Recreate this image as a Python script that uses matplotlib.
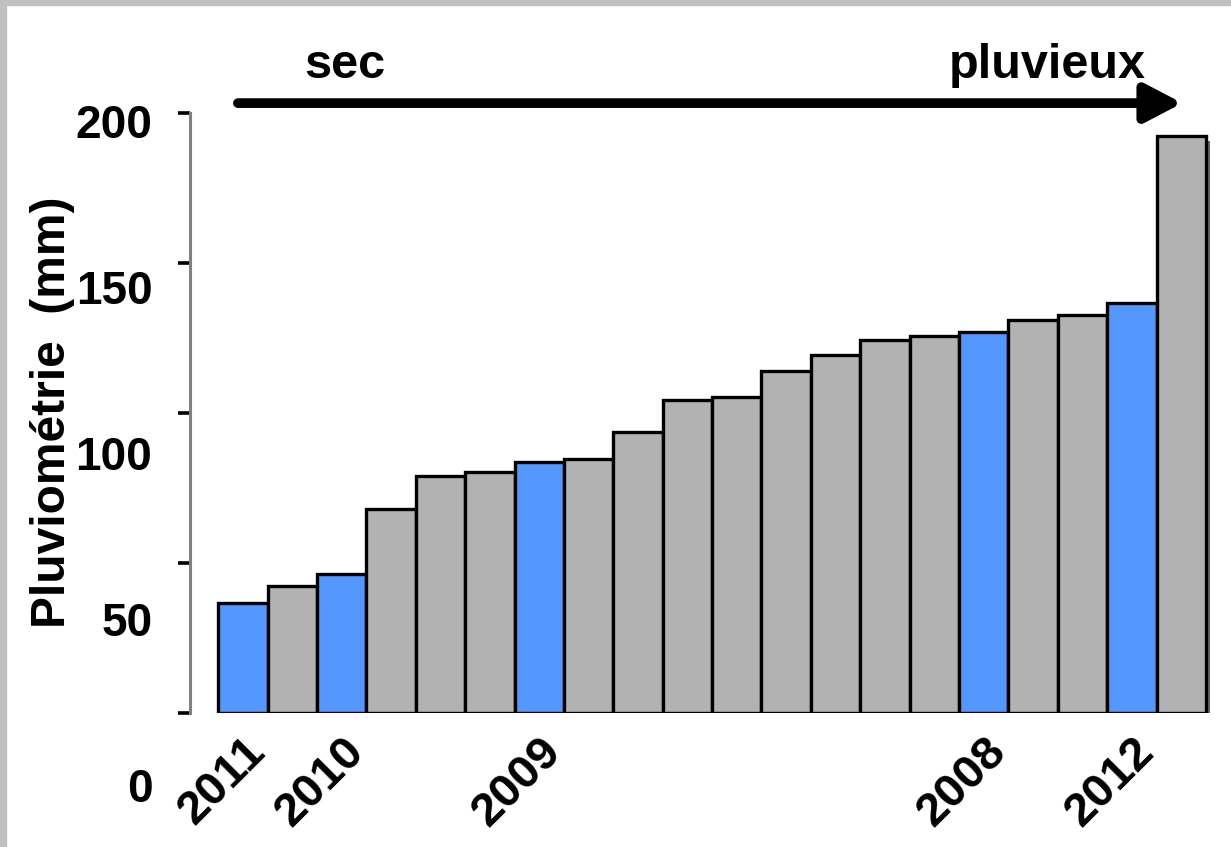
import matplotlib
matplotlib.use('Agg')
import matplotlib.pyplot as plt
import matplotlib.patheffects as pe
from matplotlib.transforms import ScaledTranslation, blended_transform_factory
from matplotlib.patches import Rectangle

plt.rcParams['font.family'] = ['Liberation Sans', 'DejaVu Sans']
plt.rcParams['font.weight'] = 'bold'

# Pluviométrie par année, triée du plus sec au plus pluvieux
valeurs = [36.7, 42.3, 46.3, 68, 79, 80.3, 83.7, 84.7, 93.7, 104.3,
           105.3, 114, 119.3, 124.3, 125.7, 127, 131, 132.7, 136.7, 192.3]
surlignees = [0, 2, 6, 15, 18]
annees = ['2011', '2010', '2009', '2008', '2012']
graduations = [0, 50, 100, 150, 200]

bleu = '#5497fe'
gris = '#b2b2b2'
couleurs = [bleu if i in surlignees else gris for i in range(len(valeurs))]

fig = plt.figure(figsize=(12.31, 8.47), dpi=100)
ax = fig.add_axes([190 / 1231, 1 - 713 / 847, 1020 / 1231, 600 / 847])

barres = ax.bar(range(len(valeurs)), valeurs, width=1.0, color=couleurs,
                edgecolor='black', linewidth=2.4, zorder=2)
for b in barres:
    b.set_path_effects([pe.SimplePatchShadow(offset=(2.5, -3.5), shadow_rgbFace='#666666', alpha=1),
                        pe.Normal()])

ax.set_xlim(-1.07, 19.58)
ax.set_ylim(0, 200)

for s in ['top', 'right', 'bottom']:
    ax.spines[s].set_visible(False)
ax.spines['left'].set_color('#808080')
ax.spines['left'].set_linewidth(2.2)

ax.set_yticks(graduations)
ax.set_yticklabels([])
ax.tick_params(axis='y', length=9, width=2.6, color='black')

# étiquettes de l'axe y (décalées comme dans l'original)
trans = blended_transform_factory(ax.transAxes, ax.transData)
for v in graduations:
    ax.text(-0.037, -25.67 + 1.1067 * v, str(v), transform=trans,
            ha='right', va='center', fontsize=33, fontweight='bold')

ax.set_xticks(surlignees)
ax.set_xticklabels(annees, rotation=45, ha='right', va='top',
                   rotation_mode='anchor', fontsize=34, fontweight='bold')
ax.tick_params(axis='x', length=0, pad=12)
decal = ScaledTranslation(0, 0, fig.dpi_scale_trans)
for lab in ax.get_xticklabels():
    lab.set_transform(lab.get_transform() + decal)

fig.text(53 / 1231, 1 - 412 / 847, 'Pluviométrie  (mm)', rotation=90,
         ha='center', va='center', fontsize=34.5, fontweight='bold')

# flèche sec -> pluvieux
ax.annotate('', xy=(19.02, 203.3), xytext=(-0.1, 203.3),
            arrowprops=dict(arrowstyle='-|>,head_length=2.2,head_width=1.15',
                            lw=7, color='black', capstyle='round',
                            shrinkA=0, shrinkB=0),
            annotation_clip=False)
fig.text(345 / 1231, 1 - 65 / 847, 'sec', ha='center', va='center',
         fontsize=35, fontweight='bold')
fig.text(1047 / 1231, 1 - 65 / 847, 'pluvieux', ha='center', va='center',
         fontsize=35, fontweight='bold')

# cadre gris en haut et à gauche
fig.patches.append(Rectangle((0, 1 - 5 / 847), 1, 5 / 847, transform=fig.transFigure,
                             color='#c0c0c0', zorder=0))
fig.patches.append(Rectangle((0, 0), 6 / 1231, 1, transform=fig.transFigure,
                             color='#c0c0c0', zorder=0))

fig.savefig('out.png', dpi=100)
